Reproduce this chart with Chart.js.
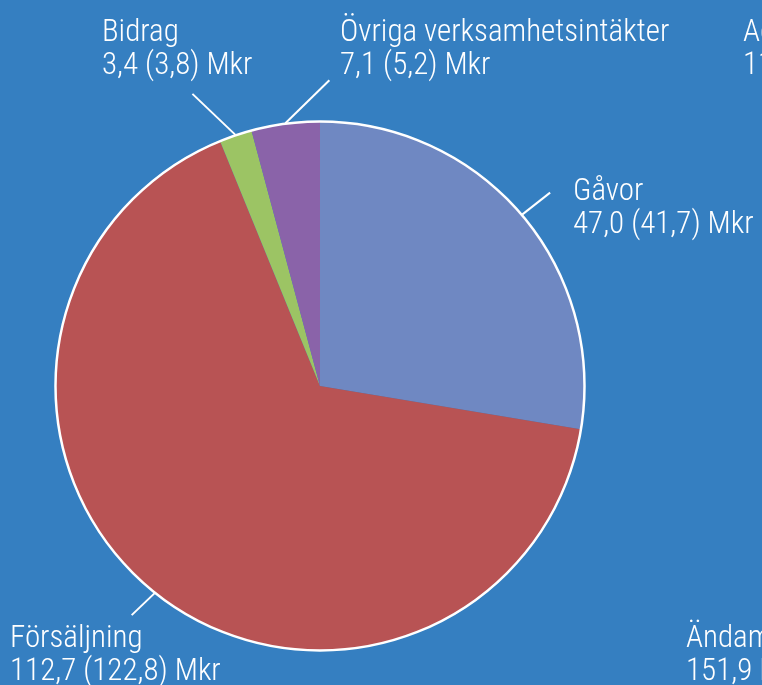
<!DOCTYPE html>
<html>
<head>
<meta charset="utf-8">
<script src="https://cdn.jsdelivr.net/npm/chart.js@4"></script>
<style>
  html, body { margin: 0; padding: 0; background: #357fc1; overflow: hidden; }
  #wrap { width: 762px; height: 685px; }
</style>
</head>
<body>
<div id="wrap"><canvas id="pieChart" width="762" height="685"></canvas></div>
<script>
// data
var categories = ['Gåvor', 'Försäljning', 'Bidrag', 'Övriga verksamhetsintäkter'];
var values = [47.0, 112.7, 3.4, 7.1];        // Mkr, this year
var previous = [41.7, 122.8, 3.8, 5.2];      // Mkr, last year
var sliceColors = ['#6f88c2', '#b85354', '#9cc464', '#8a63a9'];

// texts from the neighbouring chart, cut off at the right edge
var sideLabels = [
    ['Administration', '11,0 Mkr'],
    ['Ändamålskostnader', '151,9 Mkr']
];

// layout of labels (left x, first baseline) and leader offsets
var labelPos = [
    { x: 573, y: 200, dx: 28, dy: -22 },
    { x: 10, y: 647, dx: -23, dy: 22 },
    { x: 102, y: 41, dx: -43, dy: -41 },
    { x: 340, y: 41, dx: 44, dy: -43 }
];
var sidePos = [{ x: 743, y: 41 }, { x: 686, y: 647 }];
var lineGap = 33;
var labelFont = '300 31px "Roboto Condensed", Roboto, sans-serif';

function fmt(v) {
    return v.toFixed(1).replace('.', ',');
}

var labelPlugin = {
    id: 'labels',
    afterDatasetsDraw: function(chart) {
        var ctx = chart.ctx;
        var arcs = chart.getDatasetMeta(0).data;
        var cx = arcs[0].x, cy = arcs[0].y, r = arcs[0].outerRadius;

        // white rim round the pie
        ctx.save();
        ctx.strokeStyle = '#ffffff';
        ctx.lineWidth = 2.5;
        ctx.beginPath();
        ctx.arc(cx, cy, r + 0.5, 0, Math.PI * 2);
        ctx.stroke();

        ctx.fillStyle = '#ffffff';
        ctx.font = labelFont;
        ctx.textBaseline = 'alphabetic';
        ctx.lineWidth = 2;

        arcs.forEach(function(arc, i) {
            var mid = (arc.startAngle + arc.endAngle) / 2;
            var x0 = cx + Math.cos(mid) * (r + 1);
            var y0 = cy + Math.sin(mid) * (r + 1);
            var p = labelPos[i];
            ctx.beginPath();
            ctx.moveTo(x0, y0);
            ctx.lineTo(x0 + p.dx, y0 + p.dy);
            ctx.stroke();

            ctx.fillText(categories[i], p.x, p.y);
            ctx.fillText(fmt(values[i]) + ' (' + fmt(previous[i]) + ') Mkr', p.x, p.y + lineGap);
        });

        sideLabels.forEach(function(lines, i) {
            ctx.fillText(lines[0], sidePos[i].x, sidePos[i].y);
            ctx.fillText(lines[1], sidePos[i].x, sidePos[i].y + lineGap);
        });
        ctx.restore();
    }
};

var pieChart = new Chart(document.getElementById('pieChart'), {
    type: 'pie',
    data: {
        labels: categories,
        datasets: [{
            data: values,
            backgroundColor: sliceColors,
            borderWidth: 0
        }]
    },
    options: {
        responsive: false,
        animation: false,
        layout: { padding: { left: 56, right: 178, top: 122, bottom: 35 } },
        plugins: {
            legend: { display: false },
            tooltip: { enabled: false }
        }
    },
    plugins: [labelPlugin]
});
</script>
</body>
</html>
